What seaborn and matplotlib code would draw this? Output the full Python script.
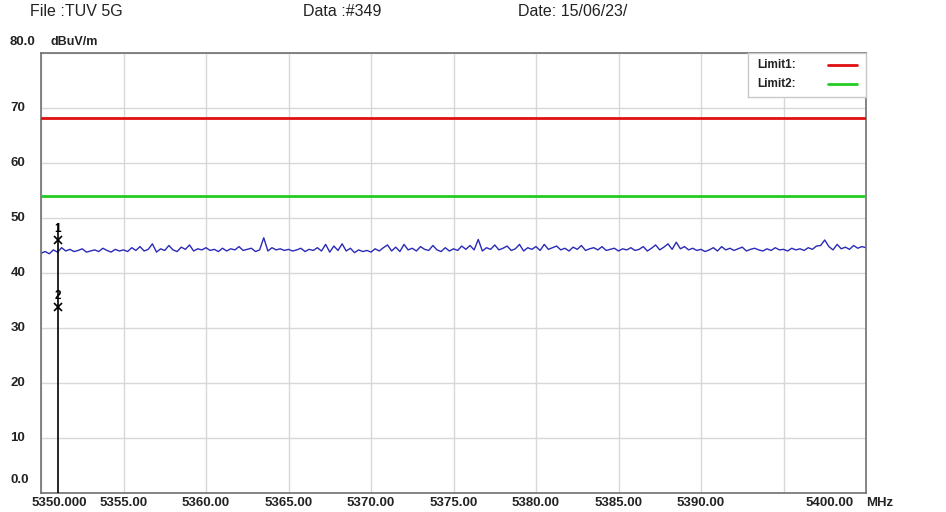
import numpy as np
import pandas as pd
import matplotlib
matplotlib.use("Agg")
import matplotlib.pyplot as plt
import seaborn as sns
from matplotlib.patches import Rectangle

# ---- data ----
freq_start = 5350.0
freq_step = 0.25
level = [
    43.6, 43.9, 43.5, 44.2, 43.8, 44.6, 44.0, 44.3, 43.9, 44.1, 44.4, 43.8, 44.0, 44.2, 43.9, 44.5, 44.1, 43.8, 44.3, 44.0,
    44.2, 43.9, 44.6, 44.1, 44.8, 44.0, 44.3, 45.3, 43.8, 44.4, 44.1, 45.0, 44.2, 43.9, 44.7, 44.3, 45.1, 44.0, 44.4, 44.2,
    44.6, 44.1, 44.3, 43.9, 44.5, 44.0, 44.4, 44.2, 44.8, 44.1, 44.3, 44.5, 43.9, 44.2, 46.4, 44.0, 44.6, 44.2, 44.4, 44.1,
    44.3, 44.0, 44.2, 44.5, 43.9, 44.3, 44.1, 44.6, 44.0, 45.2, 43.8, 44.9, 44.1, 45.3, 44.0, 44.5, 43.7, 44.2, 43.9, 44.1,
    43.8, 44.4, 44.0, 44.6, 45.1, 44.0, 44.7, 43.9, 45.2, 44.2, 44.5, 44.0, 44.8, 44.3, 44.1, 45.0, 44.2, 43.9, 44.6, 44.0,
    44.4, 44.1, 44.9, 44.3, 45.0, 44.2, 46.1, 44.0, 44.6, 44.3, 45.1, 44.2, 44.5, 44.9, 44.1, 44.4, 45.2, 44.0, 44.6, 44.3,
    44.8, 44.1, 45.2, 44.3, 44.6, 44.9, 44.2, 44.5, 44.0, 44.7, 44.3, 45.0, 44.1, 44.4, 44.6, 44.2, 44.8, 44.1, 44.3, 44.5,
    44.0, 44.4, 44.2, 44.6, 44.1, 44.3, 44.8, 44.0, 44.5, 45.1, 44.2, 44.7, 45.3, 44.3, 45.6, 44.4, 44.8, 44.2, 44.5, 44.1,
    44.3, 43.9, 44.2, 44.6, 44.0, 44.8, 44.2, 44.5, 44.1, 44.4, 44.7, 44.0, 44.3, 44.5, 44.2, 44.0, 44.4, 44.1, 44.6, 44.2,
    44.3, 44.0, 44.5, 44.2, 44.4, 44.1, 44.6, 44.3, 44.9, 45.0, 46.0, 44.8, 44.2, 45.2, 44.4, 44.7, 44.3, 45.0, 44.5, 44.8,
    44.6,
]
freq = [freq_start + i * freq_step for i in range(len(level))]

limit1 = 68.2
limit2 = 54.0
marker_freq = [5351.0, 5351.0]
marker_level = [46.0, 33.8]
marker_names = ["1", "2"]

ytick_vals = [10, 20, 30, 40, 50, 60, 70]
ytick_labels = ["10", "20", "30", "40", "50", "60", "70"]
xtick_vals = [5355, 5360, 5365, 5370, 5375, 5380, 5385, 5390]
xtick_labels = ["5355.00", "5360.00", "5365.00", "5370.00", "5375.00", "5380.00", "5385.00", "5390.00"]

# ---- plot ----
sns.set_theme(style="white")
plt.rcParams['font.family'] = ['Liberation Sans', 'DejaVu Sans']

fig = plt.figure(figsize=(9.46, 5.12), dpi=100)
ax = fig.add_axes([41/946, 1-493/512, (866-41)/946, (493-53)/512])

df = pd.DataFrame({"freq": freq, "level": level})
sns.lineplot(data=df, x="freq", y="level", ax=ax, color="#2a2ab8", lw=1.0)

ax.axhline(limit1, color="#e01010", lw=2, zorder=3)
ax.axhline(limit2, color="#22cc22", lw=2, zorder=3)

ax.set_xlim(5350, 5400)
ax.set_ylim(0, 80)
ax.set_xticks([5350, 5355, 5360, 5365, 5370, 5375, 5380, 5385, 5390, 5395, 5400])
ax.set_yticks([0] + ytick_vals + [80])
ax.grid(True, color="#d8d8d8", lw=1)
ax.tick_params(length=0, labelbottom=False, labelleft=False)
ax.set_xlabel("")
ax.set_ylabel("")
for s in ax.spines.values():
    s.set_color("#707070")
    s.set_linewidth(1.2)

# markers
for mf, ml, mn in zip(marker_freq, marker_level, marker_names):
    ax.plot([mf], [ml], marker="x", color="black", ms=6, mew=1.2, zorder=5)
    ax.text(mf, ml + 1.0, mn, ha="center", va="bottom", fontsize=8.5, fontweight="bold", color="black")
ax.plot([marker_freq[0], marker_freq[0]], [0, max(marker_level) + 3], color="black", lw=1.2, zorder=4)

tc = "#222222"
# y tick labels
for v, lab in zip(ytick_vals, ytick_labels):
    ax.text(-0.028, v, lab, transform=ax.get_yaxis_transform(), ha="center", va="center",
            fontsize=9.5, fontweight="bold", color=tc)
fig.text(20/946, 1-480/512, "0.0", ha="center", va="center", fontsize=9.5, fontweight="bold", color=tc)
fig.text(22/946, 1-42/512, "80.0", ha="center", va="center", fontsize=9.5, fontweight="bold", color=tc)
fig.text(50/946, 1-42/512, "dBuV/m", ha="left", va="center", fontsize=9, fontweight="bold", color=tc)

# x tick labels
for v, lab in zip(xtick_vals, xtick_labels):
    ax.text(v, -0.023, lab, transform=ax.get_xaxis_transform(), ha="center", va="center",
            fontsize=9.5, fontweight="bold", color=tc)
fig.text(59/946, 1-503/512, "5350.000", ha="center", va="center", fontsize=9.5, fontweight="bold", color=tc)
fig.text(830/946, 1-503/512, "5400.00", ha="center", va="center", fontsize=9.5, fontweight="bold", color=tc)
fig.text(866/946, 1-503/512, "MHz", ha="left", va="center", fontsize=9.5, fontweight="bold", color=tc)

# header
fig.text(30/946, 1-12/512, "File :TUV 5G", ha="left", va="center", fontsize=11.5, color=tc)
fig.text(303/946, 1-12/512, "Data :#349", ha="left", va="center", fontsize=11.5, color=tc)
fig.text(518/946, 1-12/512, "Date: 15/06/23/", ha="left", va="center", fontsize=11.5, color=tc)

# legend box
lx0, ly0, lx1, ly1 = 748, 53, 866, 97
ax_bbox = fig.add_axes([lx0/946, 1-ly1/512, (lx1-lx0)/946, (ly1-ly0)/512])
ax_bbox.set_xlim(0, 1); ax_bbox.set_ylim(0, 1)
ax_bbox.set_xticks([]); ax_bbox.set_yticks([])
ax_bbox.set_facecolor("white")
for s in ax_bbox.spines.values():
    s.set_color("#c8c8c8"); s.set_linewidth(1)
ax_bbox.text(0.08, 0.73, "Limit1:", ha="left", va="center", fontsize=8.5, fontweight="bold", color=tc)
ax_bbox.text(0.08, 0.30, "Limit2:", ha="left", va="center", fontsize=8.5, fontweight="bold", color=tc)
ax_bbox.plot([0.68, 0.92], [0.73, 0.73], color="#e01010", lw=2)
ax_bbox.plot([0.68, 0.92], [0.30, 0.30], color="#22cc22", lw=2)

fig.savefig("out.png", dpi=100)
